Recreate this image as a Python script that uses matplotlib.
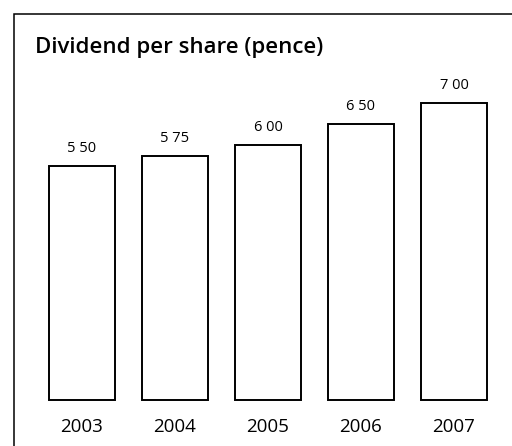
import matplotlib
matplotlib.use("Agg")
import matplotlib.pyplot as plt
from matplotlib.patches import Rectangle

years = ["2003", "2004", "2005", "2006", "2007"]
dividend = [5.50, 5.75, 6.00, 6.50, 7.00]
value_labels = ["5 50", "5 75", "6 00", "6 50", "7 00"]

plt.rcParams['font.family'] = ['Open Sans', 'DejaVu Sans']

W, H = 512, 446
fig = plt.figure(figsize=(W / 100, H / 100), dpi=100)
ax = fig.add_axes([0, 0, 1, 1])

x = list(range(len(years)))
ax.bar(x, dividend, width=0.70, facecolor="white", edgecolor="black", linewidth=1.4)

for xi, v, lab in zip(x, dividend, value_labels):
    ax.annotate(lab, (xi, v), xytext=(0, 10), textcoords="offset points",
                ha="center", va="baseline", fontsize=10.5, color="black")

for xi, yr in zip(x, years):
    ax.annotate(yr, (xi, 0), xytext=(0, -19.5), textcoords="offset points",
                ha="center", va="center", fontsize=13.5, color="black")

# map: pixel = 82 + 93*x ; y pixel from top: 400 - 42.5*v
ax.set_xlim((0 - 82) / 93, (W - 82) / 93)
ax.set_ylim((400 - H) / 42.5, 400 / 42.5)
ax.axis("off")

fig.text(35 / W, 1 - 48 / H, "Dividend per share (pence)", ha="left", va="center",
         fontsize=16, fontweight="semibold", color="black")

fig.patches.append(Rectangle((14 / W, -0.1), 1.2, 1 - 14 / H + 0.1,
                             transform=fig.transFigure, fill=False,
                             edgecolor="black", linewidth=1.1))

fig.savefig("out.png", dpi=100)
